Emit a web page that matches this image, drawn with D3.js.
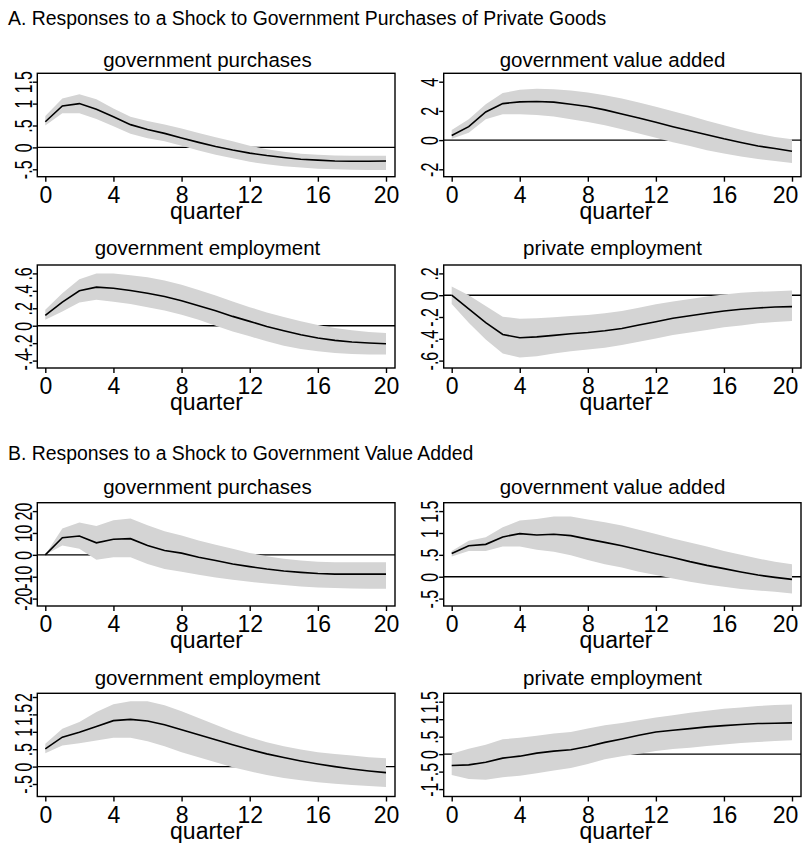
<!DOCTYPE html>
<html>
<head>
<meta charset="utf-8">
<script src="https://cdn.jsdelivr.net/npm/d3@7"></script>
<style>
  body { margin: 0; background: #fff; }
  text { font-family: "Liberation Sans", Arial, sans-serif; fill: #000; }
</style>
</head>
<body>
<script>
// impulse responses, quarters 0..20 (mean and 90% band)
const quarters = [0,1,2,3,4,5,6,7,8,9,10,11,12,13,14,15,16,17,18,19,20];
const xTicks = [0, 4, 8, 12, 16, 20];

const headers = [
  "A. Responses to a Shock to Government Purchases of Private Goods",
  "B. Responses to a Shock to Government Value Added"
];
const titles = ["government purchases", "government value added", "government employment", "private employment"];

// Panel A: shock to government purchases of private goods
const aPurchMean = [0.585,0.946,1.0,0.87,0.70,0.52,0.41,0.32,0.215,0.115,0.02,-0.06,-0.13,-0.185,-0.23,-0.27,-0.29,-0.31,-0.315,-0.315,-0.31];
const aPurchHi   = [0.715,1.115,1.215,1.10,0.89,0.70,0.60,0.52,0.43,0.33,0.23,0.14,0.04,-0.04,-0.10,-0.146,-0.17,-0.185,-0.19,-0.19,-0.19];
const aPurchLo   = [0.50,0.78,0.78,0.65,0.485,0.31,0.21,0.14,0.04,-0.07,-0.17,-0.25,-0.33,-0.385,-0.43,-0.46,-0.485,-0.50,-0.51,-0.515,-0.515];
const aPurchTicks = [-0.5, 0, 0.5, 1, 1.5];

const aVaMean = [0.32,0.92,1.93,2.5,2.62,2.64,2.6,2.46,2.3,2.07,1.79,1.52,1.22,0.92,0.64,0.37,0.09,-0.16,-0.41,-0.57,-0.76];
const aVaHi   = [0.69,1.43,2.46,3.22,3.45,3.52,3.49,3.4,3.26,3.08,2.85,2.57,2.28,1.98,1.66,1.33,1.01,0.71,0.44,0.21,0.05];
const aVaLo   = [0.09,0.5,1.43,1.77,1.77,1.72,1.61,1.43,1.24,1.01,0.74,0.46,0.16,-0.14,-0.41,-0.69,-0.92,-1.13,-1.29,-1.43,-1.56];
const aVaTicks = [-2, 0, 2, 4];

const aGovEmpMean = [0.118,0.27,0.40,0.442,0.43,0.404,0.373,0.335,0.286,0.229,0.171,0.107,0.05,-0.008,-0.057,-0.103,-0.141,-0.168,-0.187,-0.198,-0.206];
const aGovEmpHi   = [0.183,0.373,0.533,0.60,0.60,0.58,0.556,0.518,0.469,0.411,0.347,0.278,0.213,0.152,0.099,0.05,0.008,-0.027,-0.053,-0.072,-0.084];
const aGovEmpLo   = [0.069,0.164,0.267,0.297,0.274,0.248,0.213,0.175,0.126,0.069,0.0,-0.065,-0.122,-0.179,-0.229,-0.267,-0.293,-0.312,-0.324,-0.331,-0.331];
const aGovEmpTicks = [-0.4, -0.2, 0, 0.2, 0.4, 0.6];

const aPrivEmpMean = [0,-0.126,-0.252,-0.36,-0.39,-0.382,-0.369,-0.354,-0.342,-0.326,-0.305,-0.274,-0.243,-0.212,-0.188,-0.166,-0.145,-0.129,-0.117,-0.108,-0.105];
const aPrivEmpHi   = [0.08,0.0,-0.098,-0.197,-0.215,-0.212,-0.203,-0.191,-0.182,-0.166,-0.145,-0.114,-0.083,-0.058,-0.034,-0.012,0.006,0.022,0.031,0.037,0.043];
const aPrivEmpLo   = [-0.08,-0.252,-0.406,-0.535,-0.572,-0.56,-0.535,-0.514,-0.498,-0.483,-0.458,-0.428,-0.397,-0.366,-0.342,-0.32,-0.295,-0.277,-0.258,-0.246,-0.237];
const aPrivEmpTicks = [-0.6, -0.4, -0.2, 0, 0.2];

// Panel B: shock to government value added
const bPurchMean = [0,7.8,8.6,5.5,7.1,7.4,4.3,2.0,0.8,-1.1,-2.6,-4.2,-5.4,-6.5,-7.4,-8.0,-8.5,-8.8,-8.8,-8.8,-8.8];
const bPurchHi   = [0,12,14.8,13.2,15.8,16.6,13.5,10.8,8.9,6.6,4.6,2.8,0.9,-0.6,-1.8,-2.6,-3.1,-3.4,-3.4,-3.4,-3.4];
const bPurchLo   = [0,4.3,2.8,-2.2,-1.1,-1.1,-4.2,-6.5,-7.7,-9.1,-10.3,-11.4,-12.3,-13.1,-13.8,-14.5,-14.9,-15.2,-15.4,-15.5,-15.5];
const bPurchTicks = [-20, -10, 0, 10, 20];

const bVaMean = [0.53,0.71,0.74,0.91,0.985,0.955,0.97,0.94,0.86,0.785,0.71,0.615,0.525,0.44,0.345,0.26,0.185,0.108,0.038,-0.015,-0.06];
const bVaHi   = [0.59,0.82,0.9,1.13,1.285,1.32,1.375,1.375,1.31,1.245,1.17,1.075,0.975,0.875,0.785,0.69,0.59,0.5,0.415,0.345,0.285];
const bVaLo   = [0.46,0.59,0.59,0.69,0.69,0.615,0.57,0.49,0.385,0.285,0.21,0.115,0.04,-0.04,-0.115,-0.18,-0.23,-0.28,-0.315,-0.345,-0.385];
const bVaTicks = [-0.5, 0, 0.5, 1, 1.5];

const bGovEmpMean = [0.51,0.846,0.99,1.15,1.32,1.356,1.31,1.2,1.058,0.913,0.77,0.625,0.49,0.365,0.26,0.163,0.077,0.0,-0.067,-0.125,-0.173];
const bGovEmpHi   = [0.654,1.087,1.28,1.567,1.79,1.875,1.875,1.76,1.587,1.394,1.2,1.01,0.846,0.7,0.587,0.49,0.413,0.365,0.317,0.27,0.24];
const bGovEmpLo   = [0.385,0.606,0.673,0.75,0.827,0.827,0.73,0.587,0.413,0.27,0.125,-0.02,-0.135,-0.24,-0.327,-0.394,-0.452,-0.49,-0.53,-0.557,-0.587];
const bGovEmpTicks = [-0.5, 0, 0.5, 1, 1.5, 2];

const bPrivEmpMean = [-0.327,-0.308,-0.23,-0.115,-0.058,0.029,0.087,0.125,0.221,0.337,0.433,0.538,0.635,0.683,0.731,0.779,0.817,0.846,0.875,0.885,0.894];
const bPrivEmpHi   = [0.01,0.154,0.27,0.423,0.471,0.529,0.587,0.635,0.731,0.827,0.894,0.971,1.048,1.115,1.183,1.24,1.298,1.337,1.375,1.404,1.423];
const bPrivEmpLo   = [-0.596,-0.712,-0.731,-0.663,-0.615,-0.548,-0.471,-0.394,-0.279,-0.144,-0.058,0.01,0.087,0.144,0.183,0.231,0.279,0.317,0.346,0.375,0.394];
const bPrivEmpTicks = [-1, -0.5, 0, 0.5, 1, 1.5];

const W = 803, H = 843;
const bandColor = "#d4d4d4";

const svg = d3.select("body").append("svg")
  .attr("width", W)
  .attr("height", H);

svg.append("rect").attr("width", W).attr("height", H).attr("fill", "#fff");

// plot region layout (pixels)
const cols = [
  {x0: 37.3, x1: 395, titleX: 207.5, quarterX: 206.5, lastShift: 0},
  {x0: 443.7, x1: 801, titleX: 612.5, quarterX: 616, lastShift: -7}
];
const rows = [
  {top: 73.3, bottom: 176.7, titleY: 67},
  {top: 265, bottom: 368, titleY: 255},
  {top: 502.7, bottom: 606, titleY: 493.5},
  {top: 693.3, bottom: 796.5, titleY: 685}
];

const panels = [
  {row: 0, col: 0, title: titles[0], mean: aPurchMean, hi: aPurchHi, lo: aPurchLo, ticks: aPurchTicks},
  {row: 0, col: 1, title: titles[1], mean: aVaMean, hi: aVaHi, lo: aVaLo, ticks: aVaTicks},
  {row: 1, col: 0, title: titles[2], mean: aGovEmpMean, hi: aGovEmpHi, lo: aGovEmpLo, ticks: aGovEmpTicks},
  {row: 1, col: 1, title: titles[3], mean: aPrivEmpMean, hi: aPrivEmpHi, lo: aPrivEmpLo, ticks: aPrivEmpTicks},
  {row: 2, col: 0, title: titles[0], mean: bPurchMean, hi: bPurchHi, lo: bPurchLo, ticks: bPurchTicks},
  {row: 2, col: 1, title: titles[1], mean: bVaMean, hi: bVaHi, lo: bVaLo, ticks: bVaTicks},
  {row: 3, col: 0, title: titles[2], mean: bGovEmpMean, hi: bGovEmpHi, lo: bGovEmpLo, ticks: bGovEmpTicks, padT: 3.7, padB: 12.5},
  {row: 3, col: 1, title: titles[3], mean: bPrivEmpMean, hi: bPrivEmpHi, lo: bPrivEmpLo, ticks: bPrivEmpTicks}
];

// stata style labels: .5, -.2, 1.5
const fmt = v => {
  if (v === 0) return "0";
  let s = String(+v.toFixed(2));
  return s.replace(/^0\./, ".").replace(/^-0\./, "-.");
};

svg.append("text")
  .attr("x", 8).attr("y", 25)
  .text(headers[0])
  .style("font-size", "19.4px");

svg.append("text")
  .attr("x", 8).attr("y", 460)
  .text(headers[1])
  .style("font-size", "19.4px");

panels.forEach(p => {
  const c = cols[p.col], r = rows[p.row];
  const padT = p.padT ?? 8.4, padB = p.padB ?? 7.4;
  const x = d3.scaleLinear().domain([0, 20]).range([c.x0 + 8, c.x1 - 9]);
  const y = d3.scaleLinear().domain(d3.extent(p.ticks)).range([r.bottom - padB, r.top + padT]);
  const g = svg.append("g");

  g.append("text")
    .attr("x", c.titleX).attr("y", r.titleY)
    .attr("text-anchor", "middle")
    .text(p.title)
    .style("font-size", "20.5px");

  // zero line sits under the band
  g.append("line")
    .attr("x1", c.x0).attr("x2", c.x1)
    .attr("y1", y(0)).attr("y2", y(0))
    .attr("stroke", "#000")
    .attr("stroke-width", 1.4);

  const area = d3.area()
    .x((d, i) => x(quarters[i]))
    .y0((d, i) => y(p.lo[i]))
    .y1((d, i) => y(p.hi[i]));

  g.append("path")
    .attr("d", area(p.mean))
    .attr("fill", bandColor);

  const line = d3.line()
    .x((d, i) => x(quarters[i]))
    .y(d => y(d));

  g.append("path")
    .attr("d", line(p.mean))
    .attr("fill", "none")
    .attr("stroke", "#000")
    .attr("stroke-width", 1.6);

  g.append("rect")
    .attr("x", c.x0).attr("y", r.top)
    .attr("width", c.x1 - c.x0).attr("height", r.bottom - r.top)
    .attr("fill", "none")
    .attr("stroke", "#000")
    .attr("stroke-width", 1.4);

  // y axis, labels rotated like stata (glyphs a bit taller than wide)
  const yAxis = g.append("g")
    .attr("transform", `translate(${c.x0},0)`)
    .call(d3.axisLeft(y).tickValues(p.ticks).tickSize(4.5).tickFormat(fmt));
  yAxis.select(".domain").remove();
  yAxis.selectAll(".tick line").attr("stroke", "#000").attr("stroke-width", 1.4);
  yAxis.selectAll(".tick text")
    .attr("transform", "rotate(-90) scale(1,1.5)")
    .attr("x", 0).attr("y", -3.5).attr("dy", 0)
    .attr("text-anchor", "middle")
    .attr("fill", "#000")
    .style("font-size", "16px")
    .style("font-family", "'Liberation Sans', Arial, sans-serif");

  const xAxis = g.append("g")
    .attr("transform", `translate(0,${r.bottom})`)
    .call(d3.axisBottom(x).tickValues(xTicks).tickSize(5).tickFormat(d3.format("d")));
  xAxis.select(".domain").remove();
  xAxis.selectAll(".tick line").attr("stroke", "#000").attr("stroke-width", 1.4);
  xAxis.selectAll(".tick text")
    .attr("y", 26).attr("dy", 0)
    .attr("x", d => d === 20 ? c.lastShift : 0)
    .attr("fill", "#000")
    .style("font-size", "23px")
    .style("font-family", "'Liberation Sans', Arial, sans-serif");

  g.append("text")
    .attr("x", c.quarterX).attr("y", r.bottom + 42)
    .attr("text-anchor", "middle")
    .text("quarter")
    .style("font-size", "23px");
});
</script>
</body>
</html>
